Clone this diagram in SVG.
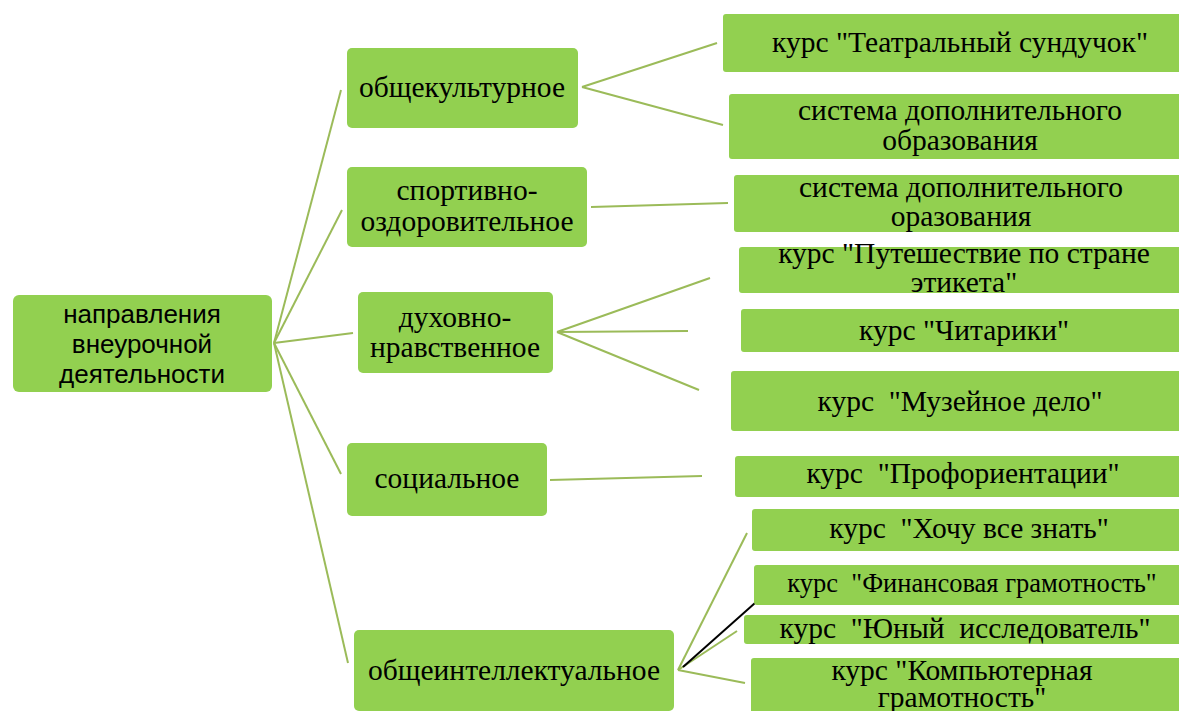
<svg xmlns="http://www.w3.org/2000/svg" width="1179" height="711" viewBox="0 0 1179 711">
<style>
.n{fill:#92D050;}
.t{font-family:"Liberation Serif","Times New Roman",serif;font-size:29.5px;fill:#000;text-anchor:middle;}
.s{font-family:"Liberation Sans",Arial,sans-serif;font-size:26px;fill:#000;text-anchor:middle;}
.c{stroke:#9BBB59;stroke-width:2;fill:none;}
.k{stroke:#000;stroke-width:2;fill:none;}
</style>
<rect width="1179" height="711" fill="#fff"/>
<g id="connectors">
<line class="c" x1="274" y1="343" x2="341" y2="90"/>
<line class="c" x1="274" y1="343" x2="342" y2="210"/>
<line class="c" x1="274" y1="343" x2="353" y2="333"/>
<line class="c" x1="274" y1="343" x2="341" y2="474"/>
<line class="c" x1="274" y1="343" x2="348" y2="663"/>
<line class="c" x1="582" y1="87" x2="717" y2="43"/>
<line class="c" x1="582" y1="87" x2="723" y2="125"/>
<line class="c" x1="591" y1="207" x2="728" y2="203"/>
<line class="c" x1="557" y1="332" x2="710" y2="278"/>
<line class="c" x1="557" y1="332" x2="688" y2="331"/>
<line class="c" x1="557" y1="332" x2="699" y2="390"/>
<line class="c" x1="550" y1="480" x2="702" y2="476"/>
<line class="c" x1="678" y1="670" x2="747" y2="533"/>
<line class="c" x1="678" y1="670" x2="737" y2="631"/>
<line class="c" x1="678" y1="670" x2="745" y2="683"/>
<line class="k" x1="683" y1="667" x2="755" y2="603"/>
</g>
<g id="root">
<rect class="n" x="13" y="295" width="259" height="97" rx="6"/>
<text class="s" x="142" y="323">направления</text>
<text class="s" x="142" y="353">внеурочной</text>
<text class="s" x="142" y="383">деятельности</text>
</g>
<g id="n-obshchekult">
<rect class="n" x="347" y="48" width="231" height="80" rx="5"/>
<text class="t" x="462" y="97">общекультурное</text>
</g>
<g id="n-sport">
<rect class="n" x="347" y="167" width="240" height="80" rx="5"/>
<text class="t" x="467" y="200">спортивно-</text>
<text class="t" x="467" y="231">оздоровительное</text>
</g>
<g id="n-dukh">
<rect class="n" x="358" y="292" width="195" height="81" rx="5"/>
<text class="t" x="455" y="327">духовно-</text>
<text class="t" x="455" y="357">нравственное</text>
</g>
<g id="n-social">
<rect class="n" x="347" y="443" width="200" height="73" rx="5"/>
<text class="t" x="447" y="488">социальное</text>
</g>
<g id="n-intel">
<rect class="n" x="354" y="630" width="320" height="81" rx="5"/>
<text class="t" x="514" y="680">общеинтеллектуальное</text>
</g>
<g id="c-teatr">
<rect class="n" x="723" y="14" width="462" height="58" rx="3"/>
<text class="t" x="960" y="52">курс "Театральный сундучок"</text>
</g>
<g id="c-sistema1">
<rect class="n" x="729" y="94" width="456" height="65" rx="3"/>
<text class="t" x="960" y="120">система дополнительного</text>
<text class="t" x="960" y="150">образования</text>
</g>
<g id="c-sistema2">
<rect class="n" x="734" y="175" width="451" height="57" rx="3"/>
<text class="t" x="961" y="197">система дополнительного</text>
<text class="t" x="961" y="226">оразования</text>
</g>
<g id="c-etiket">
<rect class="n" x="739" y="247" width="446" height="46" rx="3"/>
<text class="t" x="964" y="263">курс "Путешествие по стране</text>
<text class="t" x="964" y="292">этикета"</text>
</g>
<g id="c-chitariki">
<rect class="n" x="741" y="309" width="444" height="43" rx="3"/>
<text class="t" x="964" y="340">курс "Читарики"</text>
</g>
<g id="c-muzey">
<rect class="n" x="731" y="371" width="454" height="60" rx="3"/>
<text class="t" x="960" y="411" xml:space="preserve">курс  "Музейное дело"</text>
</g>
<g id="c-proforient">
<rect class="n" x="735" y="456" width="450" height="41" rx="3"/>
<text class="t" x="963" y="483" xml:space="preserve">курс  "Профориентации"</text>
</g>
<g id="c-khochu">
<rect class="n" x="752" y="509" width="433" height="42" rx="3"/>
<text class="t" x="969" y="538" xml:space="preserve">курс  "Хочу все знать"</text>
</g>
<g id="c-finans">
<rect class="n" x="754" y="565" width="431" height="40" rx="3"/>
<text class="t" x="972" y="592" style="font-size:26.5px" xml:space="preserve">курс  "Финансовая грамотность"</text>
</g>
<g id="c-yuny">
<rect class="n" x="744" y="615" width="441" height="29" rx="3"/>
<text class="t" x="965" y="638" xml:space="preserve">курс  "Юный  исследователь"</text>
</g>
<g id="c-komp">
<rect class="n" x="751" y="658" width="434" height="60" rx="3"/>
<text class="t" x="962" y="680">курс "Компьютерная</text>
<text class="t" x="962" y="707">грамотность"</text>
</g>
</svg>
